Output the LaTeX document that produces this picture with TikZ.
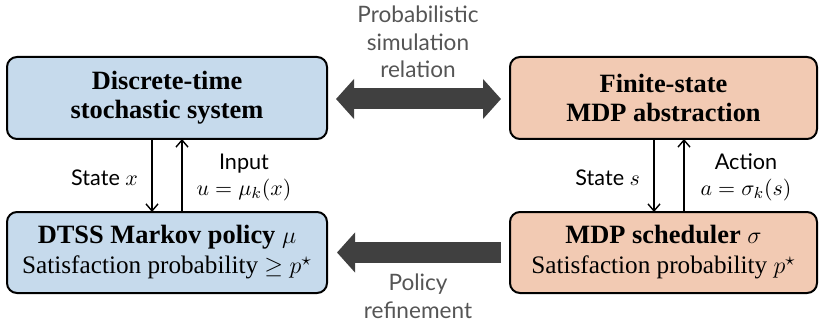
\documentclass[tikz,border=0pt]{standalone}
\usepackage{fontspec}
\setmainfont{Liberation Serif}
\newfontfamily\labelfont{Lato}
\usetikzlibrary{arrows.meta}
\definecolor{sysblue}{HTML}{C6DAEC}
\definecolor{mdporange}{HTML}{F2CAB3}
\definecolor{bigarrow}{HTML}{404040}
\definecolor{relgray}{HTML}{555555}
\tikzset{
  block/.style={draw=black, line width=1pt, rounded corners=5pt, align=center,
    inner sep=0pt},
  boldtext/.style={font=\fontsize{13.2}{14.5}\selectfont},
  mixtext/.style={font=\fontsize{12.6}{15}\selectfont},
  sideLabel/.style={font=\labelfont\fontsize{10.8}{13}\selectfont, align=center},
  relLabel/.style={font=\labelfont\fontsize{11.3}{13.8}\selectfont, text=relgray, align=center},
  flow/.style={line width=0.7pt, -{Straight Barb[length=3.5pt,width=6pt,line width=0.7pt]}},
  fatarrow/.style={draw=bigarrow, line width=10.5pt},
  fathead/.tip={Triangle[length=9pt,width=19.5pt]},
}
\begin{document}
\begin{tikzpicture}[x=0.5pt,y=-0.5pt]
\useasboundingbox (0,0) rectangle (819,326);
% system side
\node[block, boldtext, fill=sysblue, minimum width=160pt, minimum height=41pt] (dtss) at (167,98)
  {\textbf{Discrete-time}\\\textbf{stochastic system}};
\node[block, mixtext, fill=sysblue, minimum width=160pt, minimum height=40.5pt] (pol) at (167,252.5)
  {\fontsize{13.2}{15}\selectfont\textbf{DTSS Markov policy} $\mu$\\Satisfaction probability $\geq p^\star$};
% abstraction side
\node[block, boldtext, fill=mdporange, minimum width=153.5pt, minimum height=41pt] (mdp) at (663.5,98)
  {\textbf{Finite-state}\\\textbf{MDP abstraction}};
\node[block, mixtext, fill=mdporange, minimum width=153.5pt, minimum height=40.5pt] (sch) at (663.5,252.5)
  {\fontsize{13.2}{15}\selectfont\textbf{MDP scheduler} $\sigma$\\Satisfaction probability $p^\star$};
% interface coordinates
\coordinate (dtssA) at (152,139);
\coordinate (polA) at (152,212);
\coordinate (dtssB) at (182,139);
\coordinate (polB) at (182,212);
\coordinate (mdpA) at (654,139);
\coordinate (schA) at (654,212);
\coordinate (mdpB) at (684,139);
\coordinate (schB) at (684,212);
\draw[flow] (dtssA) -- (polA);
\draw[flow] (polB) -- (dtssB);
\draw[flow] (mdpA) -- (schA);
\draw[flow] (schB) -- (mdpB);
\node[sideLabel, anchor=east] (stx) at (145,178) {State $x$};
\node[sideLabel] (inp) at (244,177) {Input\\$u=\mu_k(x)$};
\node[sideLabel, anchor=east] (sts) at (647,178) {State $s$};
\node[sideLabel] (act) at (746,177) {Action\\$a=\sigma_k(s)$};
% probabilistic simulation relation
\draw[fatarrow, fathead-fathead, shorten <=4pt, shorten >=4pt]
  ([yshift=-0.5pt]dtss.east) -- ([yshift=-0.5pt]mdp.west);
\node[relLabel] (relt) at (418,42) {Probabilistic\\simulation\\relation};
% policy refinement
\draw[fatarrow, -fathead, shorten <=4pt, shorten >=4.5pt]
  (sch.west) -- (pol.east);
\node[relLabel] (reft) at (418,296) {Policy\\refinement};
\end{tikzpicture}
\end{document}
